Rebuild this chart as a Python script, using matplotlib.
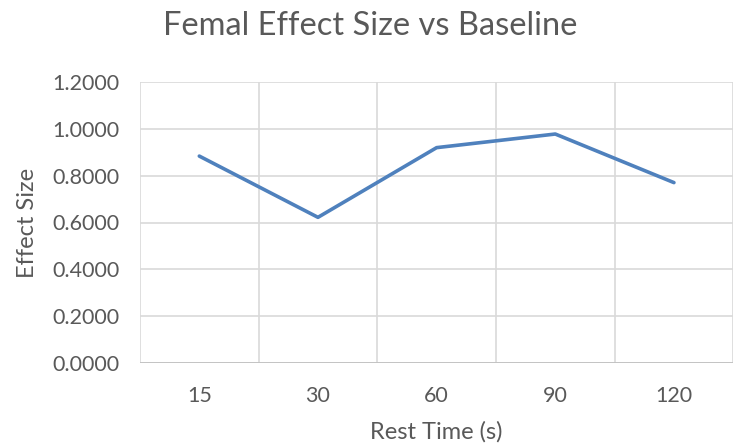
import matplotlib
matplotlib.use("Agg")
import matplotlib.pyplot as plt
import numpy as np

plt.rcParams['font.family'] = ['Lato', 'DejaVu Sans']

# Données
categories = ["15", "30", "60", "90", "120"]
effect_size = [0.883, 0.622, 0.919, 0.977, 0.770]
yticks = [0.0, 0.2, 0.4, 0.6, 0.8, 1.0, 1.2]

gris_texte = "#595959"
gris_grille = "#d9d9d9"

fig = plt.figure(figsize=(7.34, 4.45), dpi=100)
ax = fig.add_axes([0.1907, 0.1836, 0.8083, 0.6328])

x = np.arange(len(categories))
ax.plot(x, effect_size, color="#4f81bd", linewidth=2.6, solid_capstyle="round", zorder=3)

ax.set_xlim(-0.5, len(categories) - 0.5)
ax.set_ylim(0, 1.2)
ax.set_yticks(yticks)
ax.set_yticklabels([f"{v:.4f}" for v in yticks])
ax.set_xticks(x)
ax.set_xticklabels(categories)

# grille verticale entre les catégories
for b in np.arange(-0.5, len(categories), 1.0):
    ax.axvline(b, color=gris_grille, linewidth=1.2, zorder=1)
for v in yticks:
    ax.axhline(v, color=gris_grille, linewidth=1.2, zorder=1)
ax.axhline(0, color="#bfbfbf", linewidth=1.2, zorder=2)

for s in ax.spines.values():
    s.set_visible(False)

ax.tick_params(axis="both", length=0, labelsize=15.5, labelcolor=gris_texte)
ax.tick_params(axis="y", pad=15)
ax.tick_params(axis="x", pad=16)

ax.set_xlabel("Rest Time (s)", fontsize=17, color=gris_texte, labelpad=11)
ax.set_ylabel("Effect Size", fontsize=17, color=gris_texte, labelpad=10)
fig.suptitle("Femal Effect Size vs Baseline", x=0.505, y=0.975, fontsize=23.5, color=gris_texte)

fig.savefig("out.png", dpi=100)
